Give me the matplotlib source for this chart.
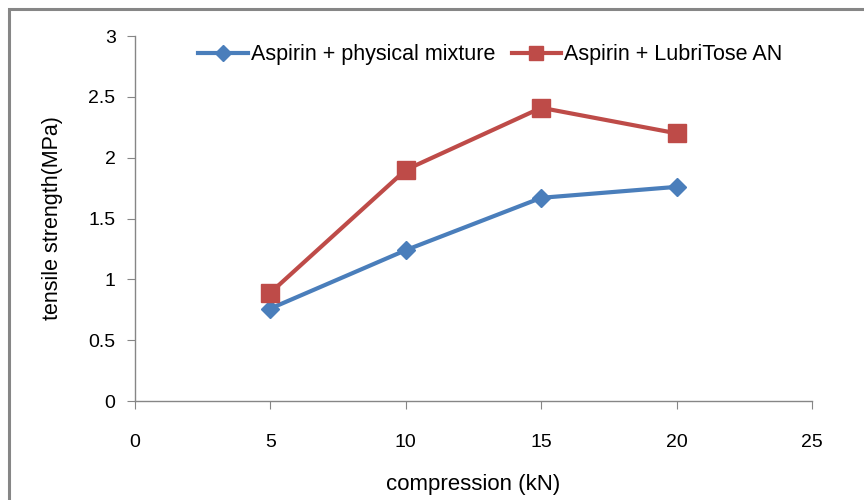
import matplotlib.pyplot as plt
from matplotlib.patches import Rectangle

plt.rcParams["font.family"] = ["Liberation Sans", "DejaVu Sans"]

compression = [5, 10, 15, 20]
physical_mixture = [0.76, 1.24, 1.67, 1.76]
lubritose = [0.89, 1.90, 2.41, 2.20]

x_ticks = [0, 5, 10, 15, 20, 25]
y_ticks = [0, 0.5, 1, 1.5, 2, 2.5, 3]

blue = "#4a7ebb"
red = "#be4b48"
grey = "#868686"

fig = plt.figure(figsize=(8.64, 5.0), dpi=100)
ax = fig.add_axes([0.1563, 0.198, 0.7835, 0.730])

# chart-area border (runs off the right and bottom edges)
fig.patches.append(Rectangle((9 / 864, -0.05), 1.1, 1 - 9 / 500 + 0.05,
                             transform=fig.transFigure, fill=False,
                             edgecolor=grey, linewidth=2.2))

ax.plot(compression, physical_mixture, color=blue, linewidth=3, marker="D",
        markersize=9, label="Aspirin + physical mixture")
ax.plot(compression, lubritose, color=red, linewidth=3, marker="s",
        markersize=12.5, label="Aspirin + LubriTose AN")

ax.set_xlim(0, 25)
ax.set_ylim(0, 3)
ax.set_xticks(x_ticks)
ax.set_yticks(y_ticks)
ax.set_yticklabels([f"{v:g}" for v in y_ticks])

for side in ("top", "right"):
    ax.spines[side].set_visible(False)
for side in ("left", "bottom"):
    ax.spines[side].set_color(grey)
    ax.spines[side].set_linewidth(1)

ax.tick_params(axis="both", direction="out", length=6, color=grey,
               labelsize=14, labelcolor="black")
ax.tick_params(axis="x", pad=18)
ax.tick_params(axis="y", pad=8)

ax.set_xlabel("compression (kN)", fontsize=16, labelpad=16)
ax.set_ylabel("tensile strength(MPa)", fontsize=15.5, labelpad=18)

ax.legend(loc="upper center", bbox_to_anchor=(0.525, 1.03), ncol=2,
          frameon=False, fontsize=15.5, handlelength=2.3, columnspacing=0.75,
          handletextpad=0.15, markerscale=0.85)

fig.savefig("out.png", dpi=100)
